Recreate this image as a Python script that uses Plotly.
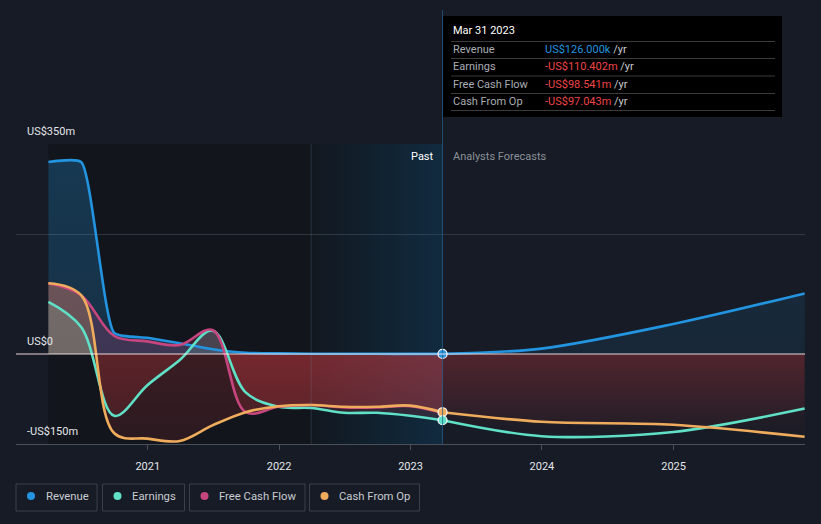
import plotly.graph_objects as go

# ---------------- data (US$ m) ----------------
past_dates = ['2020-03-31', '2020-06-30', '2020-09-30', '2020-12-31', '2021-03-31',
              '2021-06-30', '2021-09-30', '2021-12-31', '2022-03-31', '2022-06-30',
              '2022-09-30', '2022-12-31', '2023-03-31']
forecast_dates = ['2023-03-31', '2023-12-31', '2024-12-31', '2025-12-31']

revenue_past = [320, 320, 35, 27, 18, 8, 2, 1, 0.5, 0.4, 0.3, 0.2, 0.126]
earnings_past = [87, 45, -103, -52, -10, 39, -64, -88, -90, -98, -98, -103, -110.402]
fcf_past = [118, 98, 30, 21, 15, 40, -97, -88, -85, -89, -89, -87, -98.541]
cfo_past = [118, 98, -132, -141, -145, -119, -97, -87, -85, -88, -88, -86, -97.043]

revenue_forecast = [0.126, 9, 50, 101]
earnings_forecast = [-110.402, -137, -130, -91]
cfo_forecast = [-97.043, -113, -118, -138]

last_year_start = '2022-03-31'
x_range = ['2020-01-01', '2026-01-01']
x_tick_vals = ['2021-01-01', '2022-01-01', '2023-01-01', '2024-01-01', '2025-01-01']
x_tick_text = ['2021', '2022', '2023', '2024', '2025']
y_range = [-150, 350]
y_grid_vals = [-150, 200, 350]
y_label_vals = [350, 0, -150]
y_label_text = ['US$350m', 'US$0', '-US$150m']

series_names = ['Revenue', 'Earnings', 'Free Cash Flow', 'Cash From Op']
series_colors = ['#2394df', '#5fe0c7', '#c8467f', '#efac5c']
series_rgb = ['35,148,223', '95,224,199', '200,70,127', '239,172,92']
past_smoothing = [0.5, 1.0, 1.0, 1.0]

# ---------------- layout helpers ----------------
W, H = 821, 524
L, R, T, B = 16, 16, 144, 80
PW, PH = W - L - R, H - T - B
FONT = 'Roboto, "Noto Sans", sans-serif'
BG = '#161b25'
RED = '220,60,66'


def px(x):
    return (x - L) / PW


def py(y):
    return (H - B - y) / PH


def fmt(v):
    sign = '-' if v < 0 else ''
    a = abs(v)
    if a < 1:
        return f'{sign}US${a * 1000:.3f}k'
    return f'{sign}US${a:.3f}m'


zero_pos = (0 - y_range[0]) / (y_range[1] - y_range[0])


def grad(rgb, pos_a_top, pos_a_zero, neg_a_zero, neg_a_bottom):
    return dict(type='vertical', start=y_range[0], stop=y_range[1],
                colorscale=[[0, f'rgba({RED},{neg_a_bottom})'],
                            [zero_pos, f'rgba({RED},{neg_a_zero})'],
                            [zero_pos + 0.0005, f'rgba({rgb},{pos_a_zero})'],
                            [1, f'rgba({rgb},{pos_a_top})']])


fig = go.Figure()

# last-year highlight band (horizontal gradient)
fig.add_trace(go.Scatter(
    x=[last_year_start, past_dates[-1], past_dates[-1], last_year_start, last_year_start],
    y=[y_range[0], y_range[0], y_range[1], y_range[1], y_range[0]],
    mode='lines', line=dict(width=0), fill='toself',
    fillgradient=dict(type='horizontal',
                      colorscale=[[0, 'rgba(14,90,140,0.04)'], [1, 'rgba(14,90,140,0.32)']]),
    hoverinfo='skip', showlegend=False))

past_sets = [revenue_past, earnings_past, fcf_past, cfo_past]
fc_sets = [revenue_forecast, earnings_forecast, None, cfo_forecast]
FC_SMOOTH = 0.9

# fills (past)
for vals, rgb, sm in zip(past_sets, series_rgb, past_smoothing):
    fig.add_trace(go.Scatter(
        x=past_dates, y=vals, mode='lines',
        line=dict(width=0, shape='spline', smoothing=sm),
        fill='tozeroy', fillgradient=grad(rgb, 0.28, 0.22, 0.2, 0.12),
        hoverinfo='skip', showlegend=False))
# fills (forecast)
for vals, rgb in zip(fc_sets, series_rgb):
    if vals is None:
        continue
    fig.add_trace(go.Scatter(
        x=forecast_dates, y=vals, mode='lines',
        line=dict(width=0, shape='spline', smoothing=FC_SMOOTH),
        fill='tozeroy', fillgradient=grad(rgb, 0.16, 0.1, 0.16, 0.01),
        hoverinfo='skip', showlegend=False))

# lines
for vals, col, sm in zip(past_sets, series_colors, past_smoothing):
    fig.add_trace(go.Scatter(
        x=past_dates, y=vals, mode='lines',
        line=dict(width=2.6, color=col, shape='spline', smoothing=sm),
        hoverinfo='skip', showlegend=False))
for vals, col in zip(fc_sets, series_colors):
    if vals is None:
        continue
    fig.add_trace(go.Scatter(
        x=forecast_dates, y=vals, mode='lines',
        line=dict(width=2.6, color=col, shape='spline', smoothing=FC_SMOOTH),
        hoverinfo='skip', showlegend=False))

# markers at the present point
fig.add_trace(go.Scatter(
    x=[past_dates[-1]] * 3,
    y=[revenue_past[-1], cfo_past[-1], earnings_past[-1]],
    mode='markers',
    marker=dict(size=9, color=[series_colors[0], series_colors[3], series_colors[1]],
                line=dict(color='white', width=1.2)),
    hoverinfo='skip', showlegend=False))

shapes = []
# darker past background
shapes.append(dict(type='rect', xref='x', yref='y', x0=past_dates[0], x1=past_dates[-1],
                   y0=y_range[0], y1=y_range[1], fillcolor='#12151b', line=dict(width=0),
                   layer='below'))
# vertical separators
shapes.append(dict(type='line', xref='x', yref='y', x0=last_year_start, x1=last_year_start,
                   y0=y_range[0], y1=y_range[1], line=dict(color='rgba(120,150,180,0.22)', width=1),
                   layer='above'))
shapes.append(dict(type='line', xref='x', yref='paper', x0=past_dates[-1], x1=past_dates[-1],
                   y0=0, y1=py(10), line=dict(color='rgba(40,95,140,0.75)', width=1),
                   layer='above'))
# zero line
shapes.append(dict(type='line', xref='paper', yref='y', x0=0, x1=1, y0=0, y1=0,
                   line=dict(color='rgba(255,235,235,0.9)', width=1.2), layer='above'))

# tooltip box
shapes.append(dict(type='rect', xref='paper', yref='paper', x0=px(443), x1=px(782),
                   y0=py(117), y1=py(16), fillcolor='#000000', line=dict(width=0), layer='above'))
for yy in [41.5, 58.5, 76, 93.5, 110.5]:
    shapes.append(dict(type='line', xref='paper', yref='paper', x0=px(451), x1=px(775),
                       y0=py(yy), y1=py(yy), line=dict(color='#3b3b3b', width=1), layer='above'))

annotations = []
annotations.append(dict(xref='paper', yref='paper', x=px(451), y=py(31), xanchor='left',
                        yanchor='middle', showarrow=False, text='Mar 31 2023',
                        font=dict(size=11, color='#ffffff', family=FONT)))
last_vals = [revenue_past[-1], earnings_past[-1], fcf_past[-1], cfo_past[-1]]
for i, (nm, v) in enumerate(zip(series_names, last_vals)):
    yy = [49.5, 66.5, 84.5, 101.5][i]
    vc = '#2394df' if v >= 0 else '#ef4444'
    annotations.append(dict(xref='paper', yref='paper', x=px(451), y=py(yy), xanchor='left',
                            yanchor='middle', showarrow=False, text=nm,
                            font=dict(size=11, color='#a9adb3', family=FONT)))
    annotations.append(dict(xref='paper', yref='paper', x=px(543), y=py(yy), xanchor='left',
                            yanchor='middle', showarrow=False,
                            text=f'<span style="color:{vc}">{fmt(v)}</span> /yr',
                            font=dict(size=11, color='#c8cbd0', family=FONT)))

# y labels
for v, t in zip(y_label_vals, y_label_text):
    annotations.append(dict(xref='paper', yref='y', x=px(25), y=v, xanchor='left',
                            yanchor='bottom', yshift=4, showarrow=False, text=t,
                            font=dict(size=11, color='#e4e6ea', family=FONT)))

# Past / Analysts Forecasts
annotations.append(dict(xref='paper', yref='paper', x=px(436), y=py(156), xanchor='right',
                        yanchor='middle', showarrow=False, text='Past',
                        font=dict(size=11, color='#ffffff', family=FONT)))
annotations.append(dict(xref='paper', yref='paper', x=px(451), y=py(156), xanchor='left',
                        yanchor='middle', showarrow=False, text='Analysts Forecasts',
                        font=dict(size=11, color='#8b9098', family=FONT)))

# legend boxes
boxes = [(16, 97), (102.5, 184.5), (189.5, 305), (309.5, 419.5)]
for (x0, x1), nm, col in zip(boxes, series_names, series_colors):
    shapes.append(dict(type='rect', xref='paper', yref='paper', x0=px(x0), x1=px(x1),
                       y0=py(511), y1=py(484), line=dict(color='#3a404b', width=1),
                       fillcolor='rgba(0,0,0,0)'))
    cx = x0 + 15
    shapes.append(dict(type='circle', xref='paper', yref='paper', xsizemode='pixel',
                       ysizemode='pixel', xanchor=px(cx), yanchor=py(496),
                       x0=-4, x1=4, y0=-4, y1=4, fillcolor=col, line=dict(width=0)))
    annotations.append(dict(xref='paper', yref='paper', x=px(x0 + 27.5), y=py(496.5),
                            xanchor='left', yanchor='middle', showarrow=False, text=nm,
                            font=dict(size=11.3, color='#c9ccd1', family=FONT)))

fig.update_layout(
    width=W, height=H, margin=dict(l=L, r=R, t=T, b=B, pad=0),
    paper_bgcolor=BG, plot_bgcolor=BG, showlegend=False,
    font=dict(family=FONT, color='#e4e6ea'),
    shapes=shapes, annotations=annotations,
    xaxis=dict(type='date', range=x_range, tickvals=x_tick_vals, ticktext=x_tick_text,
               ticks='outside', ticklen=5, tickcolor='#4a505a', showline=True,
               linecolor='#4a505a', linewidth=1, showgrid=False, zeroline=False,
               tickfont=dict(size=11, color='#e4e6ea', family=FONT), ticklabelstandoff=7),
    yaxis=dict(range=y_range, tickvals=y_grid_vals, showticklabels=False, ticks='',
               showgrid=True, gridcolor='#30363f', gridwidth=1, zeroline=False,
               showline=False),
)

fig.write_html('out.html', config={'displayModeBar': False},
               post_script="document.body.style.margin='0';document.body.style.overflow='hidden';"
                           "document.body.style.background='" + BG + "';")
